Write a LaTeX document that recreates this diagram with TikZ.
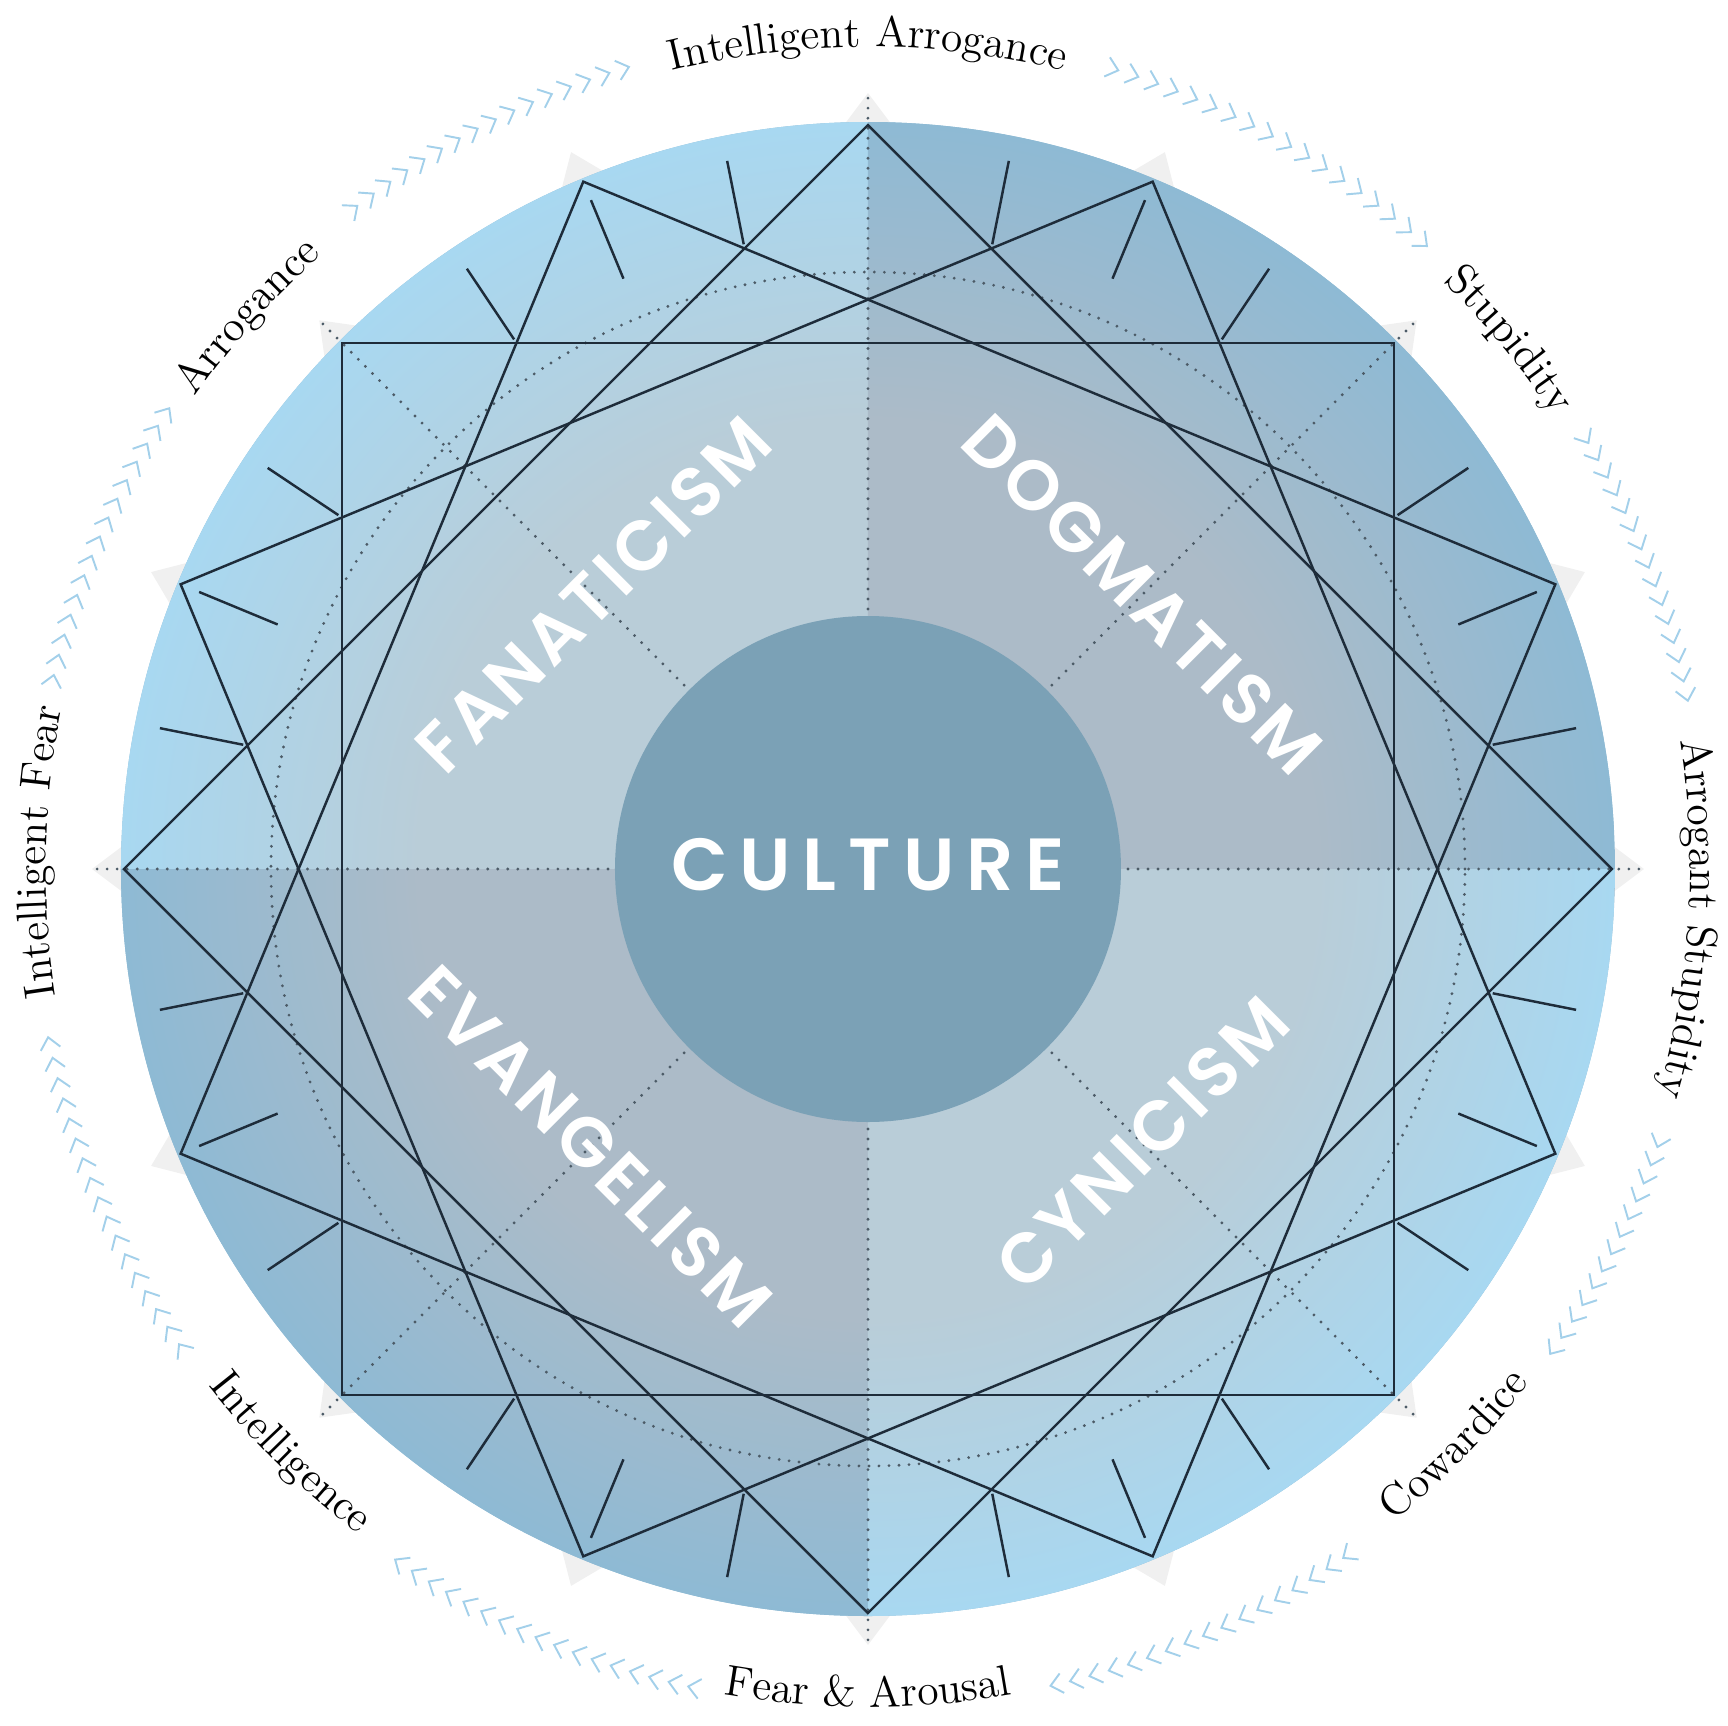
\documentclass[tikz,border=0pt]{standalone}
\usepackage{fontspec}
\usepackage{xcolor}
\usepackage{tikz}
\usetikzlibrary{decorations.text,positioning}

\newfontfamily\wordfont{Poppins SemiBold}[LetterSpace=6]
\newfontfamily\corefont{Poppins SemiBold}[LetterSpace=16]
\newcommand{\ringfont}{\fontsize{12.4}{14}\selectfont}

\definecolor{rimLight}{HTML}{A8D8F1}
\definecolor{coreLight}{HTML}{B9CDD8}
\definecolor{rimDark}{HTML}{8EBAD4}
\definecolor{coreDark}{HTML}{ACBBC8}
\definecolor{cultureFill}{HTML}{7BA1B6}
\definecolor{starInk}{HTML}{1E2C3A}
\definecolor{guideInk}{HTML}{4C5B67}
\definecolor{chevBlue}{HTML}{A3D0EA}
\definecolor{tipShade}{HTML}{F0F0F0}

\pgfdeclareradialshading{lightquad}{\pgfpoint{0bp}{0bp}}{color(0bp)=(coreLight); color(15bp)=(coreLight); color(25bp)=(rimLight); color(50bp)=(rimLight)}
\pgfdeclareradialshading{darkquad}{\pgfpoint{0bp}{0bp}}{color(0bp)=(coreDark); color(15bp)=(coreDark); color(25bp)=(rimDark); color(50bp)=(rimDark)}

\tikzset{
    starline/.style={draw=starInk, line width=0.7pt, line join=miter},
    tickline/.style={draw=starInk, line width=0.7pt},
    guide/.style={draw=guideInk, line width=0.9pt, line cap=round, dash pattern=on 0pt off 2.85pt},
    chevron/.style={draw=chevBlue, line width=0.55pt},
    word/.style={text=white, font=\wordfont\fontsize{20}{20}\selectfont, inner sep=0pt},
    coreword/.style={text=white, font=\corefont\fontsize{21}{21}\selectfont, inner sep=0pt}
}

\begin{document}
\begin{tikzpicture}[x=1cm, y=1cm]
    \useasboundingbox (-8.68,-8.56) rectangle (8.60,8.69);

    % Faint tips behind the star points
    \foreach \a in {0,22.5,...,337.5}
        \fill[tipShade] (\a+2:7.42) -- (\a:7.76) -- (\a-2:7.42) -- cycle;

    % Disc, one shaded quarter at a time
    \fill[rimDark] (0,0) circle (7.47);
    \foreach \sx/\sy/\shd in {-1/1/lightquad, 1/1/darkquad, -1/-1/darkquad, 1/-1/lightquad} {
        \begin{scope}
            \clip (0,0) rectangle ({8*(\sx)}, {8*(\sy)});
            \shade[shading=\shd] (0,0) circle (7.47);
        \end{scope}
    }

    % Dotted guides
    \draw[guide] (0,0) circle (5.97);
    \foreach \a in {0,45,...,315}
        \draw[guide] (\a:2.5) -- (\a:7.78);

    % Four squares of the star
    \foreach \a in {0,22.5,45,67.5}
        \draw[starline] (\a:7.44) -- (\a+90:7.44) -- (\a+180:7.44) -- (\a+270:7.44) -- cycle;

    % Short ticks toward the centre
    \foreach \a in {11.25,33.75,...,348.75}
        \draw[tickline] (\a:6.37) -- (\a:7.22);
    \foreach \a in {22.5,67.5,...,337.5}
        \draw[tickline] (\a:6.39) -- (\a:7.24);

    % Centre
    \node[circle, fill=cultureFill, minimum size=5.06cm, inner sep=0pt] (core) at (0,0) {};
    \node[coreword] (culture) at (0,0.045) {CULTURE};

    % Quadrant words
    \node[word, rotate=45]  (fanaticism) at (135:3.88) {FANATICISM};
    \node[word, rotate=-45] (dogmatism)  at (45:3.88)  {DOGMATISM};
    \node[word, rotate=-45] (evangelism) at (225:3.92) {EVANGELISM};
    \node[word, rotate=45]  (cynicism)   at (315:3.88) {CYNICISM};

    % Ring labels, upper half read clockwise
    \path[decorate, decoration={text along path, text align=center, text={|\ringfont|Intelligent Arrogance}}]
        (120:8.22) arc[start angle=120, end angle=60, radius=8.22];
    \path[decorate, decoration={text along path, text align=center, text={|\ringfont|Stupidity}}]
        (69.5:8.22) arc[start angle=69.5, end angle=9.5, radius=8.22];
    \path[decorate, decoration={text along path, text align=center, text={|\ringfont|Arrogant Stupidity}}]
        (26.5:8.22) arc[start angle=26.5, end angle=-33.5, radius=8.22];
    \path[decorate, decoration={text along path, text align=center, text={|\ringfont|Intelligent Fear}}]
        (208.8:8.22) arc[start angle=208.8, end angle=148.8, radius=8.22];
    \path[decorate, decoration={text along path, text align=center, text={|\ringfont|Arrogance}}]
        (168.3:8.22) arc[start angle=168.3, end angle=108.3, radius=8.22];

    % Ring labels, lower half read counterclockwise
    \path[decorate, decoration={text along path, text align=center, text={|\ringfont|Cowardice}}]
        (-74.5:8.38) arc[start angle=-74.5, end angle=-14.5, radius=8.38];
    \path[decorate, decoration={text along path, text align=center, text={|\ringfont|Fear {\&} Arousal}}]
        (-120:8.38) arc[start angle=-120, end angle=-60, radius=8.38];
    \path[decorate, decoration={text along path, text align=center, text={|\ringfont|Intelligence}}]
        (-164.7:8.38) arc[start angle=-164.7, end angle=-104.7, radius=8.38];

    % Chevrons running clockwise between the labels
    \foreach \from/\to/\n in {128/107/15, 73/48.5/17, 31/12/14, -19/-35/12, -55/-77/16, -102/-124/16, -145/-168/16, 167/147/14} {
        \foreach \i in {0,...,\n} {
            \pgfmathsetmacro{\a}{\from-(\from-\to)*\i/\n}
            \draw[chevron] (\a+0.4:8.47) -- (\a-0.4:8.37) -- (\a+0.4:8.27);
        }
    }
\end{tikzpicture}
\end{document}
